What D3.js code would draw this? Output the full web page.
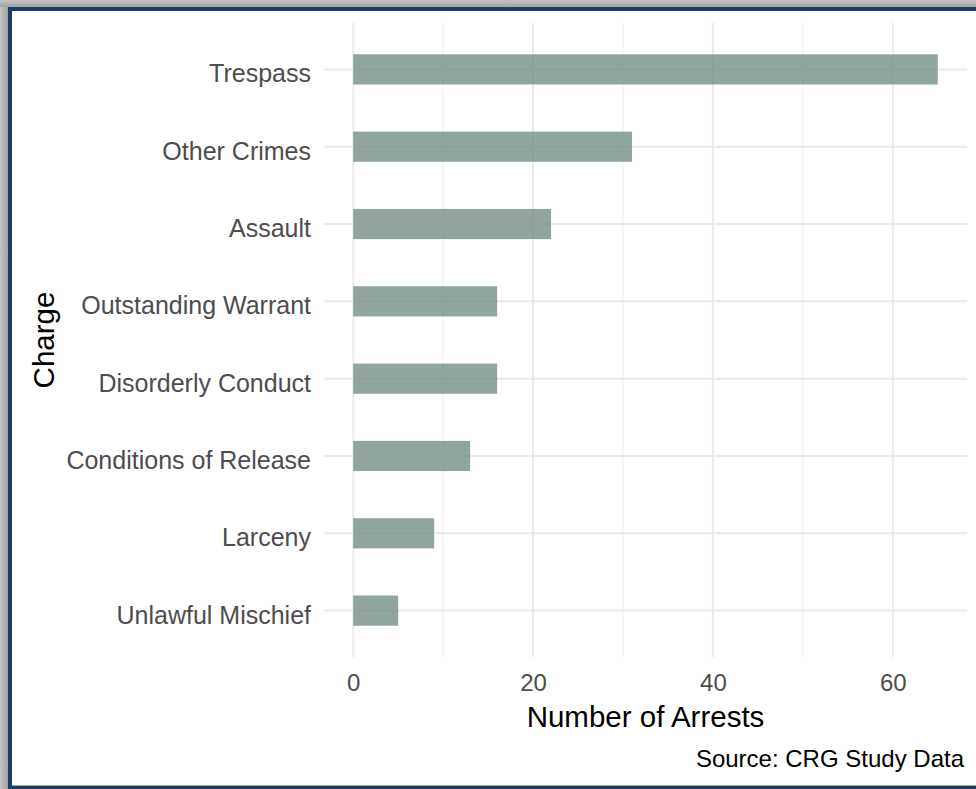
<!DOCTYPE html>
<html>
<head>
<meta charset="utf-8">
<script src="https://cdn.jsdelivr.net/npm/d3@7"></script>
<style>
  html, body { margin: 0; padding: 0; background: #ffffff; }
  svg { display: block; }
  text { font-family: "Liberation Sans", Arial, sans-serif; }
</style>
</head>
<body>
<svg id="chart" width="976" height="789"></svg>
<script>
// ---- data ----
const categories = ["Trespass", "Other Crimes", "Assault", "Outstanding Warrant",
  "Disorderly Conduct", "Conditions of Release", "Larceny", "Unlawful Mischief"];
const arrests = [65, 31, 22, 16, 16, 13, 9, 5];
const xTicks = [0, 20, 40, 60];
const xMinorTicks = [10, 30, 50];
const xTitle = "Number of Arrests";
const yTitle = "Charge";
const caption = "Source: CRG Study Data";

const W = 976, H = 789;
const svg = d3.select("#chart");

// ---- frame ----
const defs = svg.append("defs");
const gl = defs.append("linearGradient").attr("id", "gl").attr("x1", 0).attr("x2", 1).attr("y1", 0).attr("y2", 0);
gl.append("stop").attr("offset", 0).attr("stop-color", "#c4c4c4");
gl.append("stop").attr("offset", 1).attr("stop-color", "#a2a2a2");
const gt = defs.append("linearGradient").attr("id", "gt").attr("x1", 0).attr("x2", 0).attr("y1", 0).attr("y2", 1);
gt.append("stop").attr("offset", 0).attr("stop-color", "#c4c4c4");
gt.append("stop").attr("offset", 1).attr("stop-color", "#a2a2a2");
svg.append("rect").attr("x", 0).attr("y", 0).attr("width", W).attr("height", H).attr("fill", "#b4b4b4");
svg.append("rect").attr("x", 0).attr("y", 0).attr("width", 8).attr("height", H).attr("fill", "url(#gl)");
svg.append("rect").attr("x", 0).attr("y", 0).attr("width", W).attr("height", 7).attr("fill", "url(#gt)");
svg.append("rect").attr("x", 8).attr("y", 7).attr("width", W - 8).attr("height", H - 7).attr("fill", "#1c3e64");
svg.append("rect").attr("x", 12).attr("y", 11).attr("width", W - 12).attr("height", 775).attr("fill", "#ffffff");
svg.append("rect").attr("x", 12).attr("y", 785).attr("width", W - 12).attr("height", 1).attr("fill", "#9aa4b0");

// ---- scales ----
const panel = { left: 324, right: 967, top: 23, bottom: 657 };
const x = d3.scaleLinear().domain([-3.25, 68.25]).range([panel.left, panel.right]);
const step = (panel.bottom - panel.top) / (categories.length - 1 + 1.2);
const y = d3.scalePoint().domain(categories)
  .range([panel.top + 0.6 * step, panel.bottom - 0.6 * step]);
const barH = step * 0.39;

const g = svg.append("g");

// minor vertical grid
g.selectAll("line.minor").data(xMinorTicks).join("line")
  .attr("x1", d => x(d)).attr("x2", d => x(d))
  .attr("y1", panel.top).attr("y2", panel.bottom)
  .attr("stroke", "#f1f1f1").attr("stroke-width", 1.2);
// major vertical grid
g.selectAll("line.majx").data(xTicks).join("line")
  .attr("x1", d => x(d)).attr("x2", d => x(d))
  .attr("y1", panel.top).attr("y2", panel.bottom)
  .attr("stroke", "#ebebeb").attr("stroke-width", 2);
// major horizontal grid
g.selectAll("line.majy").data(categories).join("line")
  .attr("x1", panel.left).attr("x2", panel.right)
  .attr("y1", d => y(d)).attr("y2", d => y(d))
  .attr("stroke", "#ebebeb").attr("stroke-width", 2);

// bars
g.selectAll("rect.bar").data(categories).join("rect")
  .attr("x", x(0))
  .attr("y", d => y(d) - barH / 2)
  .attr("width", (d, i) => x(arrests[i]) - x(0))
  .attr("height", barH)
  .attr("fill", "#758f87").attr("fill-opacity", 0.8);

// y axis labels
const yAxis = d3.axisLeft(y).tickSize(0).tickPadding(0);
const ya = svg.append("g").attr("transform", `translate(311,0)`).call(yAxis);
ya.select(".domain").remove();
ya.selectAll("text")
  .attr("font-size", 25).attr("fill", "#4d4d4d")
  .attr("font-family", "Liberation Sans, Arial, sans-serif")
  .attr("dy", null).attr("y", 12.5);

// x axis labels
const xAxis = d3.axisBottom(x).tickValues(xTicks).tickSize(0).tickPadding(0);
const xa = svg.append("g").attr("transform", `translate(0,691)`).call(xAxis);
xa.select(".domain").remove();
xa.selectAll("text")
  .attr("font-size", 24).attr("fill", "#4d4d4d")
  .attr("font-family", "Liberation Sans, Arial, sans-serif")
  .attr("dy", null).attr("y", 0);

// titles
svg.append("text").attr("x", (panel.left + panel.right) / 2).attr("y", 727)
  .attr("text-anchor", "middle").attr("font-size", 29.5).attr("fill", "#000")
  .text(xTitle);
svg.append("text")
  .attr("transform", `translate(54,${(panel.top + panel.bottom) / 2}) rotate(-90)`)
  .attr("text-anchor", "middle").attr("font-size", 29.5).attr("fill", "#000")
  .text(yTitle);
svg.append("text").attr("x", 964).attr("y", 767)
  .attr("text-anchor", "end").attr("font-size", 24).attr("fill", "#000")
  .text(caption);
</script>
</body>
</html>
